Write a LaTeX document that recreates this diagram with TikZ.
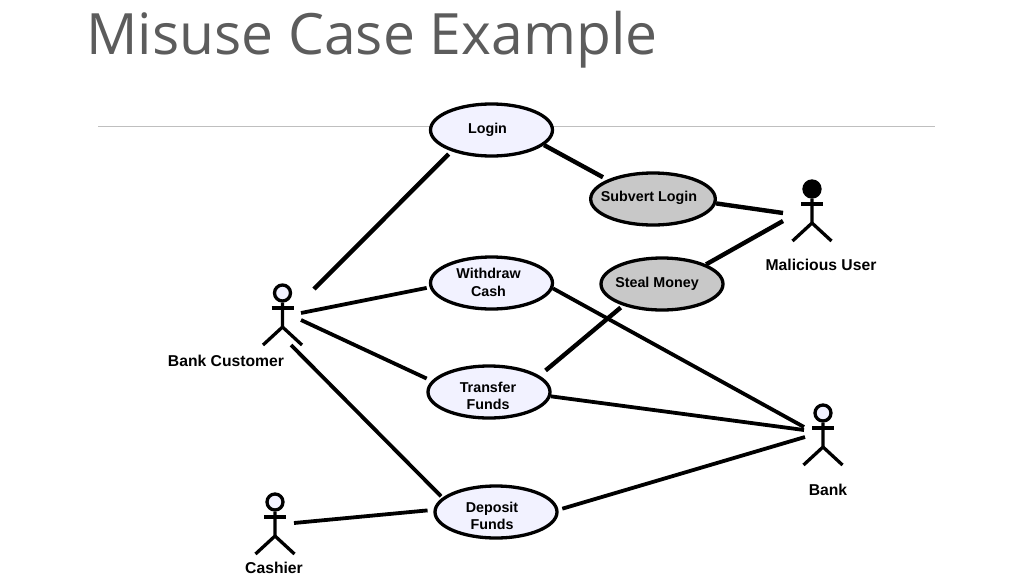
\documentclass[tikz,border=0pt]{standalone}
\usepackage{fontspec}
\setmainfont{Liberation Sans}
\newfontfamily\titlefont{Open Sans}
\usetikzlibrary{shapes.geometric}
\definecolor{ucblue}{HTML}{F2F2FF}
\definecolor{ucgrey}{HTML}{C8C8C8}
\definecolor{titlegrey}{HTML}{5C5C5C}
\tikzset{
	usecase/.style={ellipse, draw=black, line width=3.3pt, fill=ucblue, minimum width=122pt, minimum height=52pt, inner sep=0pt, font=\bfseries\fontsize{14.3}{17.5}\selectfont},
	misuse/.style={usecase, fill=ucgrey},
	link/.style={line width=3.8pt},
	who/.style={font=\bfseries\fontsize{15.7}{18}\selectfont, inner sep=0pt},
}
% text off the centre of its ellipse
\def\uctext(#1,#2)#3{\hspace*{#1}\raisebox{#2}[0pt][0pt]{\begin{tabular}{@{}c@{}}#3\end{tabular}}}
% stick figure, head at (x,y)
\def\actor(#1,#2)[#3]#4{
	\begin{scope}[shift={(#1,#2)}, line width=3.3pt]
		\node[circle, draw=black, line width=3.3pt, fill=#3, minimum size=16pt, inner sep=0pt] (#4) at (0,0) {};
		\draw (#4.south) -- (0,34) -- (-19.5,52);
		\draw (0,34) -- (19.5,52);
		\draw (-11,15) -- (11,15);
	\end{scope}
}

\begin{document}
\begin{tikzpicture}[x=1pt, y=-1pt]
			\useasboundingbox (0,0) rectangle (1022,581);
			
			\node[anchor=base west, inner sep=0pt, text=titlegrey, font=\titlefont\fontsize{57}{60}\selectfont] (title) at (86,54) {Misuse Case Example};
			\draw[color=black!25, line width=1pt] (98,126) coordinate (ruleL) -- (935,126) coordinate (ruleR);
			
			%%%%% use cases
			\node[usecase] (login) at (491.5,130) {\uctext(-8pt,-3.6pt){Login}};
			\node[misuse] (subvert) at (653,199) {\uctext(-8pt,-2.6pt){Subvert Login}};
			\node[usecase] (withdraw) at (491.5,283) {\uctext(-6pt,-4.6pt){Withdraw\\Cash}};
			\node[misuse] (steal) at (662,284) {\uctext(-10pt,-3.6pt){Steal Money}};
			\node[usecase] (transfer) at (489,392) {\uctext(-2pt,-9.1pt){Transfer\\Funds}};
			\node[usecase] (deposit) at (496,512) {\uctext(-8pt,-9.1pt){Deposit\\Funds}};
			
			%%%%% actors
			\actor(282.5,293)[ucblue]{customer}
			\actor(812,189)[black]{malicious}
			\actor(823,413)[ucblue]{bank}
			\actor(275,502)[ucblue]{cashier}
			
			\node[who] (customerlabel) at (226,361) {Bank Customer};
			\node[who] (maliciouslabel) at (821,265) {Malicious User};
			\node[who] (banklabel) at (828,490) {Bank};
			\node[who] (cashierlabel) at (274,568) {Cashier};
			
			%%%%% free ends beside the actors
			\coordinate (customerA) at (314,289);
			\coordinate (customerB) at (301,313);
			\coordinate (customerC) at (301,320);
			\coordinate (customerD) at (291,345);
			\coordinate (cashierA) at (294,523);
			\coordinate (maliciousA) at (783,213);
			\coordinate (maliciousB) at (783,221);
			\coordinate (bankA) at (804,427);
			\coordinate (bankB) at (804,430);
			\coordinate (bankC) at (805,437);
			
			%%%%% connectors
			\draw[link, line width=4.4pt, shorten >=4pt] (customerA) -- (login.208);
			\draw[link, shorten >=3pt] (customerB) -- (withdraw.184.5);
			\draw[link, shorten >=5.5pt] (customerC) -- (transfer.169);
			\draw[link, shorten >=2pt] (customerD) -- (deposit.165.7);
			\draw[link, shorten >=6pt] (cashierA) -- (deposit.178);
			\draw[link, line width=4.4pt, shorten >=5pt] (login.344) -- (subvert.157);
			\draw[link, line width=4.4pt] (subvert.-4.6) -- (maliciousA);
			\draw[link, line width=4.4pt] (steal.24.4) -- (maliciousB);
			\draw[link, line width=4.4pt, shorten <=3pt, shorten >=8pt] (steal.209) -- (transfer.18);
			\draw[link] (withdraw.-5.6) -- (bankA);
			\draw[link] (transfer.-4.7) -- (bankB);
			\draw[link, shorten <=4pt] (deposit.2) -- (bankC);
		\end{tikzpicture}
\end{document}
